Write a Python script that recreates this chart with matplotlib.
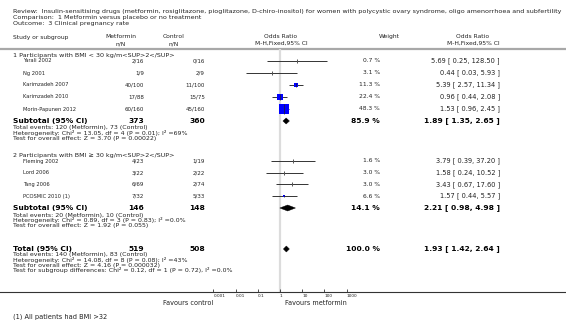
import matplotlib
matplotlib.use("Agg")
import matplotlib.pyplot as plt
import numpy as np
from matplotlib.patches import Polygon
from matplotlib.ticker import NullLocator

# ---------------- data ----------------
g1_names = ["Yarali 2002", "Ng 2001", "Karimzadeh 2007", "Karimzadeh 2010", "Morin-Papunen 2012"]
g1_met = ["2/16", "1/9", "40/100", "17/88", "60/160"]
g1_ctl = ["0/16", "2/9", "11/100", "15/75", "45/160"]
g1_weight = [0.7, 3.1, 11.3, 22.4, 48.3]
g1_or = [5.69, 0.44, 5.39, 0.96, 1.53]
g1_lo = [0.25, 0.03, 2.57, 0.44, 0.96]
g1_hi = [128.50, 5.93, 11.34, 2.08, 2.45]
g1_sub = dict(met="373", ctl="360", weight=85.9, est=1.89, lo=1.35, hi=2.65)

g2_names = ["Fleming 2002", "Lord 2006", "Tang 2006", "PCOSMIC 2010 (1)"]
g2_met = ["4/23", "3/22", "6/69", "7/32"]
g2_ctl = ["1/19", "2/22", "2/74", "5/33"]
g2_weight = [1.6, 3.0, 3.0, 6.6]
g2_or = [3.79, 1.58, 3.43, 1.57]
g2_lo = [0.39, 0.24, 0.67, 0.44]
g2_hi = [37.20, 10.52, 17.60, 5.57]
g2_sub = dict(met="146", ctl="148", weight=14.1, est=2.21, lo=0.98, hi=4.98)

tot = dict(met="519", ctl="508", weight=100.0, est=1.93, lo=1.42, hi=2.64)

g1_label = "1 Participants with BMI < 30 kg/m<SUP>2</SUP>"
g2_label = "2 Participants with BMI \u2265 30 kg/m<SUP>2</SUP>"
g1_stats = ["Total events: 120 (Metformin), 73 (Control)",
            "Heterogeneity: Chi\u00b2 = 13.05, df = 4 (P = 0.01); I\u00b2 =69%",
            "Test for overall effect: Z = 3.70 (P = 0.00022)"]
g2_stats = ["Total events: 20 (Metformin), 10 (Control)",
            "Heterogeneity: Chi\u00b2 = 0.89, df = 3 (P = 0.83); I\u00b2 =0.0%",
            "Test for overall effect: Z = 1.92 (P = 0.055)"]
tot_stats = ["Total events: 140 (Metformin), 83 (Control)",
             "Heterogeneity: Chi\u00b2 = 14.08, df = 8 (P = 0.08); I\u00b2 =43%",
             "Test for overall effect: Z = 4.16 (P = 0.000032)",
             "Test for subgroup differences: Chi\u00b2 = 0.12, df = 1 (P = 0.72), I\u00b2 =0.0%"]
header_lines = ["Review:  Insulin-sensitising drugs (metformin, rosiglitazone, pioglitazone, D-chiro-inositol) for women with polycystic ovary syndrome, oligo amenorrhoea and subfertility",
                "Comparison:  1 Metformin versus placebo or no treatment",
                "Outcome:  3 Clinical pregnancy rate"]
tick_vals = [0.001, 0.01, 0.1, 1, 10, 100, 1000]
tick_labels = ["0.001", "0.01", "0.1", "1", "10", "100", "1000"]
footnote = "(1) All patients had BMI >32"

# ---------------- layout ----------------
W, H = 566, 320
fig = plt.figure(figsize=(W / 100, H / 100), dpi=100)
plt.rcParams['font.family'] = ['DejaVu Sans']

axt = fig.add_axes([0, 0, 1, 1])
axt.set_xlim(0, W)
axt.set_ylim(H, 0)
axt.axis('off')

PX_DEC = 22.2
X_ONE = 280
axf = fig.add_axes([0, 0, 1, 1], facecolor='none')
axf.set_xscale('log')
axf.set_xlim(10 ** (-X_ONE / PX_DEC), 10 ** ((W - X_ONE) / PX_DEC))
axf.set_ylim(H, 0)

FS_TITLE = 4.55
FS_HEAD = 4.3
FS_NAME = 3.7
FS_NUM = 4.0
FS_WT = 4.3
FS_OR = 4.8
FS_STAT = 4.5
FS_GRP = 4.6
FSB = 5.4
TXT = '#222222'
X_NAME0, X_NAME1 = 13, 23
X_MET, X_CTL = 144, 205
X_WT, X_OR = 380, 500

# header
for i, line in enumerate(header_lines):
    axt.text(X_NAME0, 11.5 + 5.8 * i, line, fontsize=FS_TITLE, va='center', ha='left', color=TXT)
axt.text(X_NAME0, 37.5, "Study or subgroup", fontsize=FS_HEAD, va='center', color=TXT)
axt.text(121, 37, "Metformin", fontsize=FS_HEAD, va='center', ha='center', color=TXT)
axt.text(121, 43.5, "n/N", fontsize=FS_HEAD, va='center', ha='center', color=TXT)
axt.text(174, 37, "Control", fontsize=FS_HEAD, va='center', ha='center', color=TXT)
axt.text(174, 43.5, "n/N", fontsize=FS_HEAD, va='center', ha='center', color=TXT)
axt.text(281, 36.5, "Odds Ratio", fontsize=FS_HEAD, va='center', ha='center', color=TXT)
axt.text(281, 43, "M-H,Fixed,95% CI", fontsize=FS_HEAD, va='center', ha='center', color=TXT)
axt.text(379, 36.5, "Weight", fontsize=FS_HEAD, va='center', ha='left', color=TXT)
axt.text(473, 36.5, "Odds Ratio", fontsize=FS_HEAD, va='center', ha='center', color=TXT)
axt.text(473, 43, "M-H,Fixed,95% CI", fontsize=FS_HEAD, va='center', ha='center', color=TXT)
axt.axhline(48.5, color='#a8a8a8', lw=1.6)

# line of no effect
axf.plot([1, 1], [49, 292], color='#dcdcdc', lw=1.6, zorder=0, solid_capstyle='butt')


def study_row(y, name, met, ctl, w, est, lo, hi):
    axt.text(X_NAME1, y, name, fontsize=FS_NAME, va='center', color=TXT)
    axt.text(X_MET, y, met, fontsize=FS_NUM, va='center', ha='right', color=TXT)
    axt.text(X_CTL, y, ctl, fontsize=FS_NUM, va='center', ha='right', color=TXT)
    axt.text(X_WT, y, f"{w:.1f} %", fontsize=FS_WT, va='center', ha='right', color=TXT)
    axt.text(X_OR, y, f"{est:.2f} [ {lo:.2f}, {hi:.2f} ]", fontsize=FS_OR, va='center', ha='right', color=TXT)
    axf.plot([lo, hi], [y, y], color='#333333', lw=0.7, zorder=2, solid_capstyle='butt')
    side = 2 + 0.15 * w
    if w < 5:
        axf.plot([est], [y], marker='|', color='#555555', markersize=3, mew=0.7, zorder=3)
    else:
        axf.plot([est], [y], marker='s', color='#0000ff', markersize=side * 0.72, mew=0, zorder=3)
        axf.plot([est], [y], marker='|', color='#222222', markersize=side * 0.72, mew=0.5, zorder=4)


def summary_row(y, label, d):
    axt.text(X_NAME0, y, label, fontsize=FSB, va='center', fontweight='bold', color='black')
    axt.text(X_MET, y, d['met'], fontsize=FSB, va='center', ha='right', fontweight='bold', color='black')
    axt.text(X_CTL, y, d['ctl'], fontsize=FSB, va='center', ha='right', fontweight='bold', color='black')
    axt.text(X_WT, y, f"{d['weight']:.1f} %", fontsize=FSB, va='center', ha='right', fontweight='bold', color='black')
    axt.text(X_OR, y, f"{d['est']:.2f} [ {d['lo']:.2f}, {d['hi']:.2f} ]", fontsize=FSB, va='center',
             ha='right', fontweight='bold', color='black')
    h = 3.0
    poly = Polygon([(d['lo'], y), (d['est'], y - h), (d['hi'], y), (d['est'], y + h)],
                   closed=True, facecolor='black', edgecolor='black', lw=0.3, zorder=3)
    axf.add_patch(poly)


def stats_rows(y0, lines, step=5.3):
    for i, s in enumerate(lines):
        axt.text(X_NAME0, y0 + i * step, s, fontsize=FS_STAT, va='center', color=TXT)


# group 1
axt.text(X_NAME0, 55, g1_label, fontsize=FS_GRP, va='center', color=TXT)
for i in range(len(g1_names)):
    study_row(61 + 12 * i, g1_names[i], g1_met[i], g1_ctl[i], g1_weight[i], g1_or[i], g1_lo[i], g1_hi[i])
summary_row(121, "Subtotal (95% CI)", g1_sub)
stats_rows(128, g1_stats)

# group 2
axt.text(X_NAME0, 155, g2_label, fontsize=FS_GRP, va='center', color=TXT)
for i in range(len(g2_names)):
    study_row(161 + 11.7 * i, g2_names[i], g2_met[i], g2_ctl[i], g2_weight[i], g2_or[i], g2_lo[i], g2_hi[i])
summary_row(208, "Subtotal (95% CI)", g2_sub)
stats_rows(215, g2_stats)

# total
summary_row(249, "Total (95% CI)", tot)
stats_rows(254.5, tot_stats)

# axis
for sp in ['top', 'left', 'right']:
    axf.spines[sp].set_visible(False)
axf.spines['bottom'].set_position(('data', 292))
axf.spines['bottom'].set_color('#333333')
axf.spines['bottom'].set_linewidth(0.8)
axf.set_yticks([])
axf.set_xticks(tick_vals)
axf.set_xticklabels(tick_labels)
axf.xaxis.set_minor_locator(NullLocator())
axf.tick_params(axis='x', direction='in', length=2.5, width=0.6, color='#333333',
                labelsize=3.1, pad=1.5, labelcolor=TXT)
for lab in axf.get_xticklabels():
    lab.set_horizontalalignment('left')

axt.text(213, 303, "Favours control", fontsize=4.7, va='center', ha='right', color=TXT)
axt.text(285, 303, "Favours metformin", fontsize=4.7, va='center', ha='left', color=TXT)
axt.text(X_NAME0, 317, footnote, fontsize=4.8, va='center', color=TXT)

fig.savefig("out.png", dpi=100)
